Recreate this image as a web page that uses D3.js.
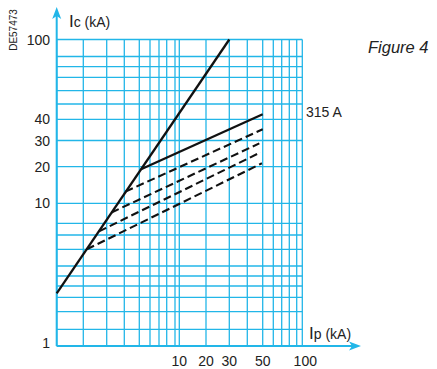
<!DOCTYPE html>
<html>
<head>
<meta charset="utf-8">
<script src="https://cdn.jsdelivr.net/npm/d3@7"></script>
<style>
  body { margin: 0; background: #fff; }
  text { font-family: "Liberation Sans", Arial, sans-serif; fill: #222; }
</style>
</head>
<body>
<div id="chart"></div>
<script>
// grid values (kA) on each axis
var xGrid = [1, 2, 3, 4, 5, 6, 7, 8, 9, 10, 20, 30, 40, 50, 60, 70, 80, 90, 100]
var yGrid = [1, 1.5, 2, 3, 4, 5, 6, 7, 8, 9, 10, 20, 30, 40, 50, 60, 70, 80, 90, 100]
var xTicks = [10, 20, 30, 50, 100]
var yTicks = [1, 10, 20, 30, 40, 100]

// unlimited peak current line
var noLimitIp = [1, 30]
var noLimitIc = [3.35, 100]
// 315 A curve
var fuse315Ip = [5.16, 50]
var fuse315Ic = [19.3, 43.3]
// smaller ratings (dashed)
var dashedIp = [[4.08, 50], [3.27, 47.8], [2.67, 48.7], [2.15, 49.5]]
var dashedIc = [[13.2, 35.3], [9.54, 28.9], [8.31, 25.5], [7.0, 21.3]]

var w = 437
var h = 369
// the printed grid is not a true log grid, so positions of each grid line
var xPx = [56.7, 83.3, 106.7, 124.3, 139.3, 150, 159, 166.7, 175, 179.3,
           206, 229.3, 247.3, 262.7, 273.3, 281.7, 289.3, 296.7, 302.3]
var yPx = [346, 329.3, 311.7, 297.3, 286, 276, 266, 249.3, 235, 223.3,
           203.3, 166.7, 140.5, 119.3, 104, 90.7, 77.3, 66.7, 56.5, 39.5]

var x = d3.scaleLinear().domain(xGrid).range(xPx)
var y = d3.scaleLinear().domain(yGrid).range(yPx)

var cyan = "#22b6e8"

var svg = d3.select("#chart").append("svg").attr("width", w).attr("height", h)

// grid
svg.append("g").selectAll("line.v")
    .data(xGrid)
    .enter()
    .append("line")
    .attr("x1", function(d) { return x(d) })
    .attr("x2", function(d) { return x(d) })
    .attr("y1", y(100))
    .attr("y2", y(1))
    .attr("stroke", cyan)
    .attr("stroke-width", 1.3)

svg.append("g").selectAll("line.h")
    .data(yGrid)
    .enter()
    .append("line")
    .attr("x1", x(1))
    .attr("x2", x(100))
    .attr("y1", function(d) { return y(d) })
    .attr("y2", function(d) { return y(d) })
    .attr("stroke", cyan)
    .attr("stroke-width", 1.3)

// axes with arrows
svg.append("line")
    .attr("x1", x(1)).attr("x2", x(1))
    .attr("y1", y(1)).attr("y2", 14)
    .attr("stroke", cyan).attr("stroke-width", 2)
svg.append("path")
    .attr("d", "M" + x(1) + ",7 L" + (x(1) - 4.5) + ",19 L" + x(1) + ",16 L" + (x(1) + 4.5) + ",19 Z")
    .attr("fill", cyan)

svg.append("line")
    .attr("x1", x(1)).attr("x2", 355)
    .attr("y1", y(1)).attr("y2", y(1))
    .attr("stroke", cyan).attr("stroke-width", 2)
svg.append("path")
    .attr("d", "M361," + y(1) + " L349," + (y(1) - 4.5) + " L352," + y(1) + " L349," + (y(1) + 4.5) + " Z")
    .attr("fill", cyan)

// tick labels
svg.append("g").selectAll("text")
    .data(yTicks)
    .enter()
    .append("text")
    .attr("x", 50)
    .attr("y", function(d) { return d == 1 ? y(d) - 3 : y(d) })
    .attr("dy", "0.36em")
    .attr("text-anchor", "end")
    .attr("font-size", 14)
    .text(function(d) { return d })

svg.append("g").selectAll("text")
    .data(xTicks)
    .enter()
    .append("text")
    .attr("x", function(d) { return d == 100 ? x(d) + 3 : x(d) })
    .attr("y", 366)
    .attr("text-anchor", "middle")
    .attr("font-size", 14)
    .text(function(d) { return d })

// axis titles
var yt = svg.append("text").attr("x", 69).attr("y", 27)
yt.append("tspan").attr("font-size", 17).text("I")
yt.append("tspan").attr("font-size", 14).text("c (kA)")

var xt = svg.append("text").attr("x", 309).attr("y", 339)
xt.append("tspan").attr("font-size", 17).text("I")
xt.append("tspan").attr("font-size", 14).text("p (kA)")

// curves
var line = d3.line()
    .x(function(d) { return x(d[0]) })
    .y(function(d) { return y(d[1]) })

function pts(ip, ic) {
    return ip.map(function(v, i) { return [v, ic[i]] })
}

svg.append("path")
    .attr("d", line(pts(noLimitIp, noLimitIc)))
    .attr("fill", "none").attr("stroke", "#111").attr("stroke-width", 2.3)

svg.append("path")
    .attr("d", line(pts(fuse315Ip, fuse315Ic)))
    .attr("fill", "none").attr("stroke", "#111").attr("stroke-width", 2.3)

svg.append("g").selectAll("path")
    .data(dashedIp)
    .enter()
    .append("path")
    .attr("d", function(d, i) { return line(pts(d, dashedIc[i])) })
    .attr("fill", "none")
    .attr("stroke", "#111")
    .attr("stroke-width", 2.1)
    .attr("stroke-dasharray", "8,4")

// labels
svg.append("text")
    .attr("x", 306).attr("y", 117)
    .attr("font-size", 14)
    .text("315 A")

svg.append("text")
    .attr("x", 368).attr("y", 53)
    .attr("font-size", 16.5)
    .attr("font-style", "italic")
    .text("Figure 4")

svg.append("text")
    .attr("transform", "translate(17,30) rotate(-90)")
    .attr("text-anchor", "middle")
    .attr("font-size", 10)
    .text("DE57473")
</script>
</body>
</html>
